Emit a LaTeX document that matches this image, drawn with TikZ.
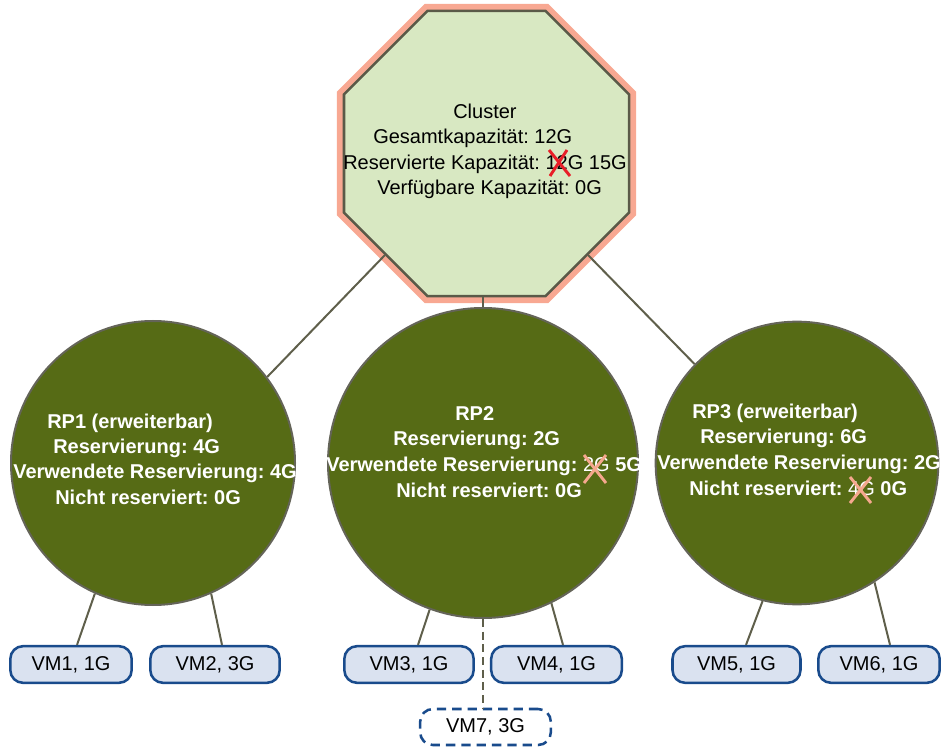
\documentclass[tikz,border=0pt]{standalone}
\usepackage{fontspec}
\setmainfont{Liberation Sans}
\usetikzlibrary{shapes.geometric,calc}
\definecolor{octfill}{RGB}{216,232,194}
\definecolor{salmon}{RGB}{248,168,146}
\definecolor{octline}{RGB}{90,90,72}
\definecolor{rpfill}{RGB}{86,107,21}
\definecolor{rpline}{RGB}{100,100,88}
\definecolor{conn}{RGB}{95,95,75}
\definecolor{vmfill}{RGB}{218,226,240}
\definecolor{vmline}{RGB}{25,75,140}
\definecolor{xred}{RGB}{232,30,40}
\definecolor{xsalmon}{RGB}{245,168,142}
\frenchspacing
\begin{document}
\begin{tikzpicture}[x=0.75pt,y=-0.75pt,
  octo/.style={regular polygon, regular polygon sides=8, minimum size=231.4pt, inner sep=0pt,
    fill=octfill, draw=octline, line width=1.9pt, preaction={draw=salmon, line width=10.5pt}},
  rp/.style={circle, fill=rpfill, draw=rpline, line width=1.5pt, inner sep=0pt},
  vm/.style={rectangle, rounded corners=9.5pt, fill=vmfill, draw=vmline, line width=1.9pt,
    minimum height=27.5pt, inner sep=0pt, font=\fontsize{15}{18}\selectfont},
  vmnew/.style={vm, fill=white, dashed, dash pattern=on 7pt off 4.5pt},
  conn/.style={draw=conn, line width=1.5pt},
  ctext/.style={anchor=base west, inner sep=0pt, font=\fontsize{15}{18}\selectfont, text=black},
  rtext/.style={anchor=base west, inner sep=0pt, font=\fontsize{15}{18}\selectfont\bfseries, text=white},
  xmark/.style={line width=2.2pt}]
\useasboundingbox (0,0) rectangle (942,748);

% nodes
\node[octo] (cl) at (486.5,153.5) {};
\node[rp, minimum size=213pt] (rp1) at (153,463) {};
\node[rp, minimum size=232.5pt] (rp2) at (483,463) {};
\node[rp, minimum size=212pt] (rp3) at (797,463) {};

\node[vm, minimum width=91pt] (vm1) at (71,664.5) {VM1, 1G};
\node[vm, minimum width=97pt] (vm2) at (215,664.5) {VM2, 3G};
\node[vm, minimum width=97pt] (vm3) at (409,664.5) {VM3, 1G};
\node[vm, minimum width=98pt] (vm4) at (556.5,664.5) {VM4, 1G};
\node[vm, minimum width=96pt] (vm5) at (736.5,664.5) {VM5, 1G};
\node[vm, minimum width=91pt] (vm6) at (879,664.5) {VM6, 1G};
\node[vmnew, minimum width=98pt, minimum height=27pt] (vm7) at (485.5,727) {VM7, 3G};

% connectors
\draw[conn] (cl.225) -- (rp1.37);
\draw[conn] (cl.-45) -- (rp3.136.7);
\draw[conn] (rp2.north) -- (rp2.north |- cl.south);
\draw[conn] (rp1.246.7) -- ($(vm1.north)+(6,0)$);
\draw[conn] (rp1.294.4) -- ($(vm2.north)+(7,0)$);
\draw[conn] (rp2.250.9) -- ($(vm3.north)+(9,0)$);
\draw[conn] (rp2.296.6) -- ($(vm4.north)+(6.5,0)$);
\draw[conn] (rp3.256.1) -- ($(vm5.north)+(9.5,0)$);
\draw[conn] (rp3.303.7) -- ($(vm6.north)+(11,0)$);
\draw[conn, line width=1.8pt, dash pattern=on 6pt off 3.5pt] (rp2.south) -- (rp2.south |- vm7.north);

% cluster text
\node[ctext] (c1) at (453,119) {Cluster};
\node[ctext] (c2) at (373,144) {Gesamtkapazität: 12G};
\node[ctext] (c3) at (343,170) {Reservierte Kapazität: 12G 15G};
\node[ctext] (c4) at (377,195) {Verfügbare Kapazität: 0G};
\draw[xmark, draw=xred] (549,150) -- (570,176) (567,150) -- (550,176);

% RP1 text
\node[rtext] (r11) at (47,428) {RP1 (erweiterbar)};
\node[rtext] (r12) at (53,453) {Reservierung: 4G};
\node[rtext] (r13) at (13,478) {Verwendete Reservierung: 4G};
\node[rtext] (r14) at (55,504) {Nicht reserviert: 0G};

% RP2 text
\node[rtext] (r21) at (455,421) {RP2};
\node[rtext] (r22) at (393,445) {Reservierung: 2G};
\node[rtext] (r23) at (326,471) {Verwendete Reservierung: {\mdseries 2G} 5G};
\node[rtext] (r24) at (396,497) {Nicht reserviert: 0G};
\draw[xmark, draw=xsalmon] (584,455) -- (606,483) (606,455) -- (584,483);

% RP3 text
\node[rtext] (r31) at (692,418) {RP3 (erweiterbar)};
\node[rtext] (r32) at (700,443) {Reservierung: 6G};
\node[rtext] (r33) at (657,469) {Verwendete Reservierung: 2G};
\node[rtext] (r34) at (689,495) {Nicht reserviert: {\mdseries 4G} 0G};
\draw[xmark, draw=xsalmon] (850,477) -- (871,503) (871,477) -- (850,503);
\end{tikzpicture}
\end{document}
